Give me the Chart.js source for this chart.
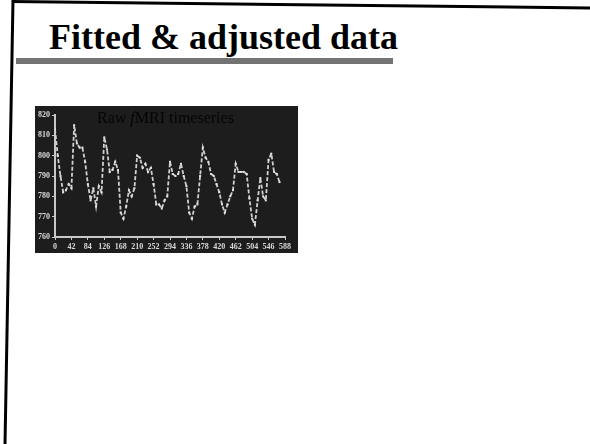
<!DOCTYPE html>
<html>
<head>
<meta charset="utf-8">
<script src="https://cdn.jsdelivr.net/npm/chart.js@4/dist/chart.umd.min.js"></script>
<style>
  html, body { margin: 0; padding: 0; background: #fff; }
  #page { position: relative; width: 590px; height: 444px; overflow: hidden; background: #fff; }
  #frame { position: absolute; left: 0; top: 0; }
  #heading { position: absolute; left: 49px; top: 19px; font: bold 36px "Liberation Serif", "Times New Roman", serif; line-height: 36px; color: #000; white-space: nowrap; }
  #rule { position: absolute; left: 16px; top: 58px; width: 377px; height: 6px; background: #737373; }
  #plotBox { position: absolute; left: 35px; top: 106px; width: 263px; height: 147px; background: #1d1d1d; }
  #plot { display: block; filter: blur(0.5px); }
</style>
</head>
<body>
<div id="page">
  <svg id="frame" width="590" height="444">
    <line x1="12" y1="1.5" x2="590" y2="8" stroke="#000" stroke-width="3"/>
    <line x1="13" y1="0" x2="5" y2="444" stroke="#000" stroke-width="3"/>
  </svg>
  <div id="heading">Fitted &amp; adjusted data</div>
  <div id="rule"></div>
  <div id="plotBox"><canvas id="plot" width="263" height="147"></canvas></div>
</div>
<script>
// Scan times (seconds, TR = 7 s)
const scanTimes = [
  0, 7, 14, 21, 28, 35, 42, 49, 56, 63, 70, 77, 84, 91, 98, 105, 112, 119, 126, 133,
  140, 147, 154, 161, 168, 175, 182, 189, 196, 203, 210, 217, 224, 231, 238, 245, 252, 259, 266, 273,
  280, 287, 294, 301, 308, 315, 322, 329, 336, 343, 350, 357, 364, 371, 378, 385, 392, 399, 406, 413,
  420, 427, 434, 441, 448, 455, 462, 469, 476, 483, 490, 497, 504, 511, 518, 525, 532, 539, 546, 553,
  560, 567, 574
];

// Raw voxel signal at each scan
const rawSignal = [
  813, 800, 790, 782, 783, 786, 784, 815, 806, 804, 804, 797, 786, 778, 784, 775, 785, 782, 809, 803,
  792, 793, 797, 793, 772, 769, 775, 783, 780, 784, 800, 799, 794, 796, 792, 794, 786, 776, 776, 774,
  778, 780, 797, 791, 790, 791, 796, 790, 785, 772, 769, 775, 776, 790, 804, 799, 797, 791, 790, 786,
  782, 776, 772, 776, 780, 783, 796, 792, 792, 792, 791, 779, 769, 766, 778, 789, 780, 778, 798, 801,
  792, 791, 787
];

// Axis tick values
const xTicks = [0, 42, 84, 126, 168, 210, 252, 294, 336, 378, 420, 462, 504, 546, 588];
const yTicks = [760, 770, 780, 790, 800, 810, 820];

const points = scanTimes.map((t, i) => ({ x: t, y: rawSignal[i] }));

// Title drawn with an italic "f" in "fMRI"
const plotTitle = {
  id: 'plotTitle',
  afterDraw(chart) {
    const ctx = chart.ctx;
    ctx.save();
    ctx.fillStyle = '#050505';
    ctx.textBaseline = 'alphabetic';
    const parts = [
      ['Raw ', '16px "Liberation Serif", serif'],
      ['f', 'italic 16px "Liberation Serif", serif'],
      ['MRI timeseries', '16px "Liberation Serif", serif']
    ];
    let x = 62;
    const y = 17;
    for (const [txt, font] of parts) {
      ctx.font = font;
      ctx.fillText(txt, x, y);
      x += ctx.measureText(txt).width;
    }
    ctx.restore();
  }
};

const tickFont = { family: '"Liberation Serif", serif', size: 8, weight: 'bold' };
const axisColor = '#c8c8c8';

new Chart(document.getElementById('plot'), {
  type: 'line',
  data: {
    datasets: [{
      data: points,
      borderColor: '#d0d0d0',
      borderWidth: 1.8,
      borderDash: [4, 2],
      pointStyle: 'rect',
      pointRadius: 1.4,
      pointBackgroundColor: '#e4e4e4',
      pointBorderWidth: 0,
      tension: 0
    }]
  },
  options: {
    responsive: false,
    animation: false,
    events: [],
    layout: { padding: { top: 9, right: 13, left: 0, bottom: 0 } },
    plugins: { legend: { display: false }, tooltip: { enabled: false }, title: { display: false } },
    scales: {
      x: {
        type: 'linear',
        min: 0,
        max: 588,
        afterBuildTicks: s => { s.ticks = xTicks.map(v => ({ value: v })); },
        afterFit: s => { s.height = 16; },
        ticks: { font: tickFont, color: '#d8d8d8', padding: 2, maxRotation: 0, autoSkip: false },
        grid: { display: true, drawOnChartArea: false, drawTicks: true, tickLength: 3, color: axisColor, lineWidth: 1 },
        border: { display: true, color: axisColor, width: 2 }
      },
      y: {
        min: 760,
        max: 820,
        afterBuildTicks: s => { s.ticks = yTicks.map(v => ({ value: v })); },
        afterFit: s => { s.width = 20; },
        ticks: { font: tickFont, color: '#d8d8d8', padding: 2 },
        grid: { display: true, drawOnChartArea: false, drawTicks: true, tickLength: 3, color: axisColor, lineWidth: 1 },
        border: { display: true, color: axisColor, width: 2 }
      }
    }
  },
  plugins: [plotTitle]
});
</script>
</body>
</html>
